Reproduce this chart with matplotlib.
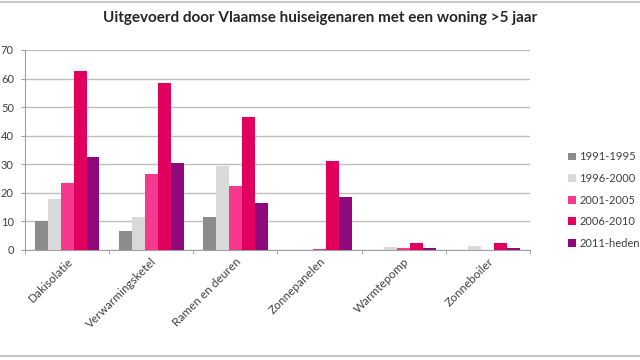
import matplotlib.pyplot as plt
import numpy as np
from matplotlib.lines import Line2D

# categories and series values
categories = ['Dakisolatie', 'Verwarmingsketel', 'Ramen en deuren',
              'Zonnepanelen', 'Warmtepomp', 'Zonneboiler']
periods = ['1991-1995', '1996-2000', '2001-2005', '2006-2010', '2011-heden']
v_1991_1995 = [10, 6.5, 11.5, 0, 0, 0]
v_1996_2000 = [18, 11.5, 29.5, 0, 1.2, 1.3]
v_2001_2005 = [23.5, 26.5, 22.5, 0.5, 0.6, 0]
v_2006_2010 = [62.5, 58.5, 46.5, 31, 2.3, 2.3]
v_2011_heden = [32.5, 30.5, 16.5, 18.5, 0.6, 0.6]
series = [v_1991_1995, v_1996_2000, v_2001_2005, v_2006_2010, v_2011_heden]
colors = ['#8c8c8c', '#d9d9d9', '#f6388e', '#e2005f', '#8e0a7c']

plt.rcParams['font.family'] = ['Lato', 'DejaVu Sans']

fig = plt.figure(figsize=(6.4, 3.6), dpi=100)
ax = fig.add_axes([25 / 640, 1 - 250 / 360, 505 / 640, 200 / 360])

x = np.arange(len(categories))
w = 0.154
for i, (vals, c, lab) in enumerate(zip(series, colors, periods)):
    ax.bar(x + (i - 2) * w, vals, width=w, color=c, label=lab, zorder=3)

ax.set_xlim(-0.5, len(categories) - 0.5)
ax.set_ylim(0, 70)
ax.set_yticks(range(0, 71, 10))
ax.set_xticks(x)
ax.set_xticklabels(categories, rotation=45, ha='right', rotation_mode='anchor',
                   fontsize=8.5, color='#404040')
ax.set_xticks(np.arange(-0.5, len(categories), 1), minor=True)
ax.tick_params(axis='x', which='major', length=0, pad=4)
ax.tick_params(axis='x', which='minor', length=3, color='#a0a0a0')
ax.tick_params(axis='y', length=3, color='#a0a0a0', pad=5, labelsize=8,
               labelcolor='#404040')
ax.grid(axis='y', color='#bfbfbf', linewidth=1, zorder=0)
for s in ['top', 'right']:
    ax.spines[s].set_visible(False)
ax.spines['left'].set_color('#a0a0a0')
ax.spines['bottom'].set_color('#a0a0a0')

fig.text(0.5, 1 - 18 / 360, 'Uitgevoerd door Vlaamse huiseigenaren met een woning >5 jaar',
         ha='center', va='center', fontsize=11, fontweight='bold', color='#262626')

fig.legend(loc='center left', bbox_to_anchor=(566 / 640, 1 - 200 / 360),
           frameon=False, fontsize=8, handlelength=0.7, handleheight=0.7,
           handletextpad=0.3, labelspacing=0.95, labelcolor='#404040',
           borderaxespad=0, borderpad=0.2)

# thin frame lines at top and bottom of the picture
fig.add_artist(Line2D([0, 1], [1 - 1.5 / 360] * 2, color='#c8c8c8', linewidth=1.5))
fig.add_artist(Line2D([0, 1], [1 - 356 / 360] * 2, color='#c8c8c8', linewidth=1.5))

fig.savefig('out.png', dpi=100)
